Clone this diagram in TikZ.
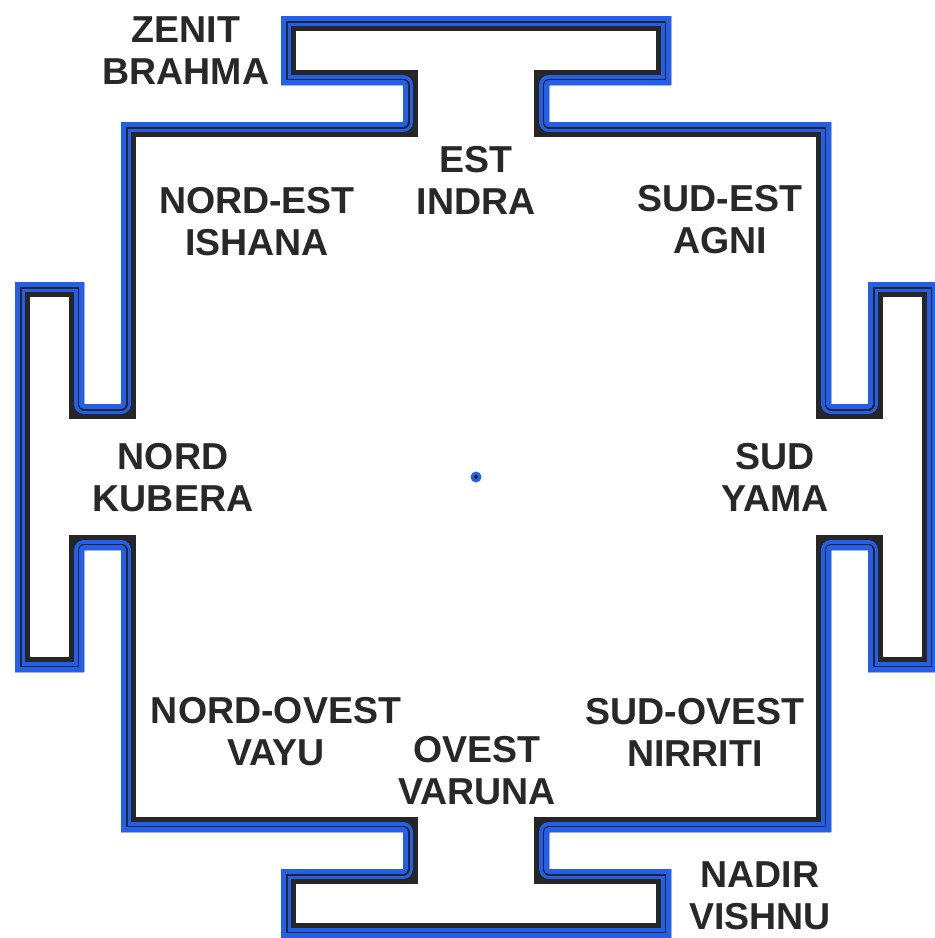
\documentclass[tikz,border=0pt]{standalone}
\usepackage{fontspec}
\setmainfont{Liberation Sans}
\usepackage{tikz}
\usetikzlibrary{positioning}
\definecolor{bandblue}{RGB}{35,95,235}
\definecolor{banddark}{RGB}{38,38,38}
\definecolor{labelgray}{RGB}{40,40,40}
\tikzset{
  dir/.style={font=\fontsize{37.5}{42}\selectfont\bfseries, text=labelgray, align=center, inner sep=0pt},
  band/.style={line join=round},
  bhupura/.style={insert path={(281,16) -- (671,16) -- (671,85) -- (549,85) -- (549,122) -- (831,122) -- (831,404) -- (868,404) -- (868,282) -- (937,282) -- (937,672) -- (868,672) -- (868,550) -- (831,550) -- (831,832) -- (549,832) -- (549,869) -- (671,869) -- (671,938) -- (281,938) -- (281,869) -- (403,869) -- (403,832) -- (121,832) -- (121,550) -- (84,550) -- (84,672) -- (15,672) -- (15,282) -- (84,282) -- (84,404) -- (121,404) -- (121,122) -- (403,122) -- (403,85) -- (281,85) -- cycle}}
}

\begin{document}
\begin{tikzpicture}[x=1pt,y=-1pt]
	\useasboundingbox (0,0) rectangle (935,938);

	%Border
	\begin{scope}
		\clip[bhupura];
		\draw[banddark, line join=miter, line width=30pt, bhupura];
		\draw[band, bandblue, line width=20pt, bhupura];
		\draw[band, banddark, line width=13pt, bhupura];
		\draw[band, bandblue, line width=10pt, bhupura];
	\end{scope}

	%Centre
	\coordinate (centre) at (476,477);
	\fill[bandblue] (centre) circle (5.5pt);
	\fill[banddark] (centre) circle (2pt);

	%Nodes
	\node[dir] (zenit) at (186,51) {ZENIT\\BRAHMA};
	\node[dir] (est) at (476,180) {EST\\INDRA};
	\node[dir] (nordest) at (257,222) {NORD-EST\\ISHANA};
	\node[dir] (sudest) at (720,220) {SUD-EST\\AGNI};
	\node[dir] (nord) at (173,478) {NORD\\KUBERA};
	\node[dir] (sud) at (775,477) {SUD\\YAMA};
	\node[dir] (nordovest) at (276,732) {NORD-OVEST\\VAYU};
	\node[dir] (ovest) at (477,771) {OVEST\\VARUNA};
	\node[dir] (sudovest) at (695,732) {SUD-OVEST\\NIRRITI};
	\node[dir] (nadir) at (760,896) {NADIR\\VISHNU};
\end{tikzpicture}
\end{document}
